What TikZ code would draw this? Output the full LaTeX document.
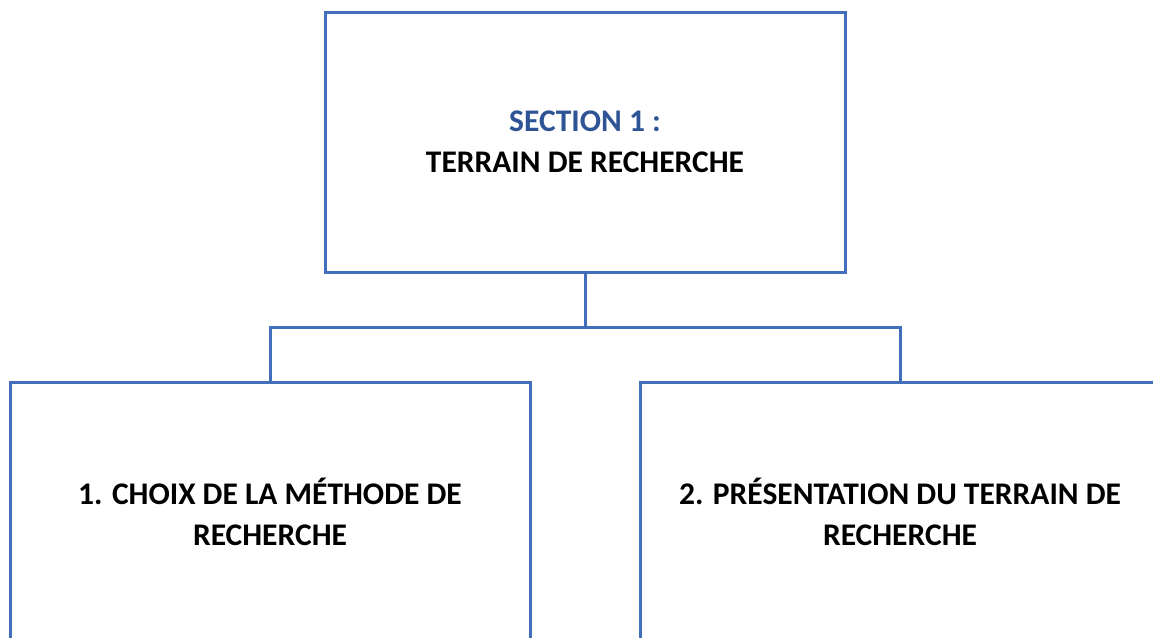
\documentclass[tikz,border=0pt]{standalone}
\usepackage{fontspec}
\setmainfont{Carlito}
\definecolor{boxblue}{RGB}{66,110,188}
\definecolor{secblue}{RGB}{47,84,150}
\tikzset{
  orgbox/.style={draw=boxblue, line width=3pt, rectangle, minimum width=520pt, minimum height=260pt,
    align=center, inner sep=0pt, font=\bfseries\fontsize{31.5}{41}\selectfont},
  link/.style={draw=boxblue, line width=3pt}
}
\begin{document}
\begin{tikzpicture}[x=1pt,y=-1pt]
\useasboundingbox (0,0) rectangle (1153,637);
\node[orgbox] (top) at (585,142) {\textcolor{secblue}{SECTION 1 :}\\TERRAIN DE RECHERCHE};
\node[orgbox] (left) at (270,512) {1. CHOIX DE LA MÉTHODE DE\\RECHERCHE};
\node[orgbox] (right) at (900,512) {2. PRÉSENTATION DU TERRAIN DE\\RECHERCHE};
\coordinate (bus) at (585,327);
\draw[link] (top.south) -- (bus);
\draw[link] (left.north) |- (bus) -| (right.north);
\end{tikzpicture}
\end{document}
